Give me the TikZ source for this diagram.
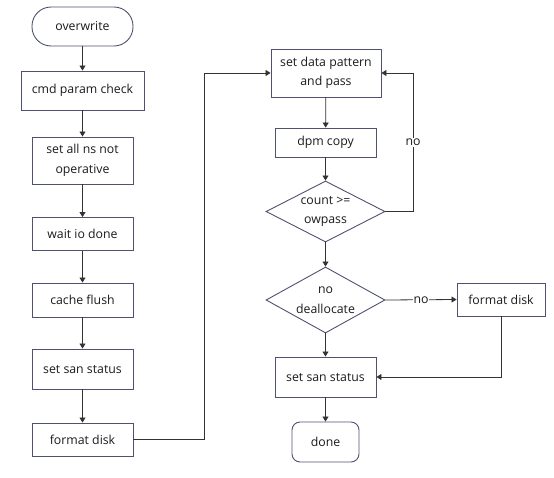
\documentclass[tikz,border=0pt]{standalone}
\usepackage{fontspec}
\setmainfont{Open Sans}
\usetikzlibrary{shapes.geometric,arrows.meta}
\definecolor{boxline}{HTML}{4E5270}
\definecolor{conn}{HTML}{333333}
\definecolor{txt}{HTML}{1A1A1A}
\tikzset{
  x=1pt,y=-1pt,
  base/.style={draw=boxline,line width=0.9pt,text=txt,align=center,inner sep=2pt,
    font=\fontsize{12.3}{19.5}\selectfont},
  proc/.style={base,rectangle},
  term/.style={base,rectangle,rounded corners=#1},
  dec/.style={base,diamond,inner sep=0pt,shape aspect=1.95,minimum width=119pt,minimum height=61pt},
  arr/.style={draw=conn,line width=0.8pt,-{Triangle[length=5pt,width=6pt]}},
  lbl/.style={fill=white,text=txt,inner sep=1pt,font=\fontsize{12.3}{14}\selectfont}
}
\begin{document}
\begin{tikzpicture}
\useasboundingbox (0,0) rectangle (554,477);
% left column
\node[term=19pt,minimum width=101pt,minimum height=39pt] (ow) at (82.5,26.5) {overwrite};
\node[proc,minimum width=123pt,minimum height=39pt] (cmd) at (82.5,90.5) {cmd param check};
\node[proc,minimum width=101pt,minimum height=47pt] (ns) at (82.5,160.5) {set all ns not\\operative};
\node[proc,minimum width=101pt,minimum height=33pt] (wait) at (82.5,234) {wait io done};
\node[proc,minimum width=101pt,minimum height=34pt] (cache) at (82.5,300) {cache flush};
\node[proc,minimum width=101pt,minimum height=40pt] (san1) at (82.5,369) {set san status};
\node[proc,minimum width=101pt,minimum height=33pt] (fmt1) at (82.5,439.5) {format disk};
% right column
\node[proc,minimum width=110pt,minimum height=48pt] (pat) at (326,73) {set data pattern\\and pass};
\node[proc,minimum width=101pt,minimum height=29pt] (dpm) at (325.5,142.5) {dpm copy};
\node[dec] (d1) at (325.5,211.5) {count >=\\owpass};
\node[dec,minimum height=66pt] (d2) at (325.5,300) {no\\deallocate};
\node[proc,minimum width=88pt,minimum height=33pt] (fmt2) at (501,299.5) {format disk};
\node[proc,minimum width=101pt,minimum height=40pt] (san2) at (325.5,377) {set san status};
\node[term=8pt,minimum width=67pt,minimum height=40pt] (done) at (325.5,442) {done};
\coordinate (j1) at (204,439.5);
\coordinate (j2) at (413,211.5);
% connectors
\draw[arr] (ow) -- (cmd);
\draw[arr] (cmd) -- (ns);
\draw[arr] (ns) -- (wait);
\draw[arr] (wait) -- (cache);
\draw[arr] (cache) -- (san1);
\draw[arr] (san1) -- (fmt1);
\draw[arr] (fmt1.east) -- (j1) |- (pat.west);
\draw[arr] (pat) -- (dpm);
\draw[arr] (dpm) -- (d1);
\draw[arr] (d1.east) -- (j2) |- node[lbl,pos=0.25] (no1) {no} (pat.east);
\draw[arr] (d1) -- (d2);
\draw[arr] (d2.east) -- node[lbl] (no2) {no} (fmt2.west);
\draw[arr] (fmt2.south) |- (san2.east);
\draw[arr] (d2) -- (san2);
\draw[arr] (san2) -- (done);
\end{tikzpicture}
\end{document}
